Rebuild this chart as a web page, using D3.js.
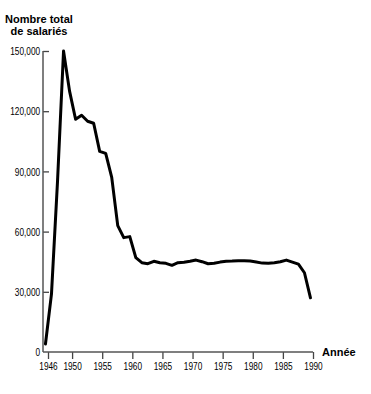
<!DOCTYPE html>
<html>
<head>
<meta charset="utf-8">
<script src="https://cdn.jsdelivr.net/npm/d3@7"></script>
<style>
  body { margin: 0; background: #fff; }
  .tick text { font-family: "Liberation Sans", Arial, sans-serif; font-size: 11.5px; fill: #000; }
  .title { font-family: "Liberation Sans", Arial, sans-serif; font-weight: bold; font-size: 11px; fill: #000; }
</style>
</head>
<body>
<div id="chart"></div>
<script>
var years = [1946, 1947, 1948, 1949, 1950, 1951, 1952, 1953, 1954, 1955,
             1956, 1957, 1958, 1959, 1960, 1961, 1962, 1963, 1964, 1965,
             1966, 1967, 1968, 1969, 1970, 1971, 1972, 1973, 1974, 1975,
             1976, 1977, 1978, 1979, 1980, 1981, 1982, 1983, 1984, 1985,
             1986, 1987, 1988, 1989, 1990];
var salaries = [4000, 29000, 85000, 150000, 130000, 116000, 118000, 115000, 114000, 100000,
                99000, 87000, 63000, 57000, 57500, 47000, 44500, 44000, 45200, 44500,
                44200, 43200, 44500, 44700, 45200, 45800, 45000, 44000, 44200, 44800,
                45200, 45300, 45500, 45500, 45300, 44800, 44300, 44200, 44500, 45000,
                45800, 44800, 43800, 39500, 27000];
var xTicks = [1946, 1950, 1955, 1960, 1965, 1970, 1975, 1980, 1985, 1990];
var yTicks = [0, 30000, 60000, 90000, 120000, 150000];

var width = 371, height = 394;
var plotLeft = 43, plotRight = 313, plotTop = 51, plotBottom = 352;

var svg = d3.select("#chart")
  .append("svg")
  .attr("width", width)
  .attr("height", height);

var x = d3.scaleLinear().domain([1946, 1990]).range([48, plotRight]);
var y = d3.scaleLinear().domain([0, 150000]).range([plotBottom, plotTop]);

// data points sit a little left of the year ticks in the original
var shift = -0.42;

// Y axis
var yAxis = svg.append("g")
  .attr("transform", "translate(" + plotLeft + ",0)")
  .call(d3.axisRight(y).tickValues(yTicks).tickSize(6).tickFormat(function(d) { return d3.format(",")(d); }));
yAxis.select(".domain").remove();
yAxis.selectAll(".tick line").attr("stroke", "#444").attr("stroke-width", 1.3)
  .style("display", function(d) { return d === 0 ? "none" : null; });
yAxis.selectAll(".tick text")
  .attr("x", -4)
  .attr("text-anchor", "end")
  .attr("transform", "scale(0.72,1)");
svg.append("line")
  .attr("x1", plotLeft).attr("x2", plotLeft)
  .attr("y1", y(150000)).attr("y2", plotBottom)
  .attr("stroke", "#555").attr("stroke-width", 1.5);

// X axis
var xAxis = svg.append("g")
  .attr("transform", "translate(0," + plotBottom + ")")
  .call(d3.axisBottom(x).tickValues(xTicks).tickSize(7).tickFormat(d3.format("d")));
xAxis.select(".domain").remove();
xAxis.selectAll(".tick line").attr("stroke", "#444").attr("stroke-width", 1.3);
xAxis.selectAll(".tick text").attr("y", 10).attr("transform", "scale(0.72,1)");
svg.append("line")
  .attr("x1", plotLeft).attr("x2", x(1990))
  .attr("y1", plotBottom).attr("y2", plotBottom)
  .attr("stroke", "#555").attr("stroke-width", 1.5);

// Line
var data = years.map(function(yr, i) { return { year: yr, value: salaries[i] }; });
svg.append("path")
  .datum(data)
  .attr("fill", "none")
  .attr("stroke", "#000")
  .attr("stroke-width", 3)
  .attr("stroke-linejoin", "round")
  .attr("stroke-linecap", "round")
  .attr("d", d3.line()
    .x(function(d) { return x(d.year + shift); })
    .y(function(d) { return y(d.value); }));

// Titles
svg.append("text").attr("class", "title").attr("x", 39).attr("y", 23)
  .attr("text-anchor", "middle").text("Nombre total");
svg.append("text").attr("class", "title").attr("x", 39).attr("y", 34.5)
  .attr("text-anchor", "middle").text("de salariés");
svg.append("text").attr("class", "title").attr("x", 322).attr("y", 356)
  .text("Année");
</script>
</body>
</html>
